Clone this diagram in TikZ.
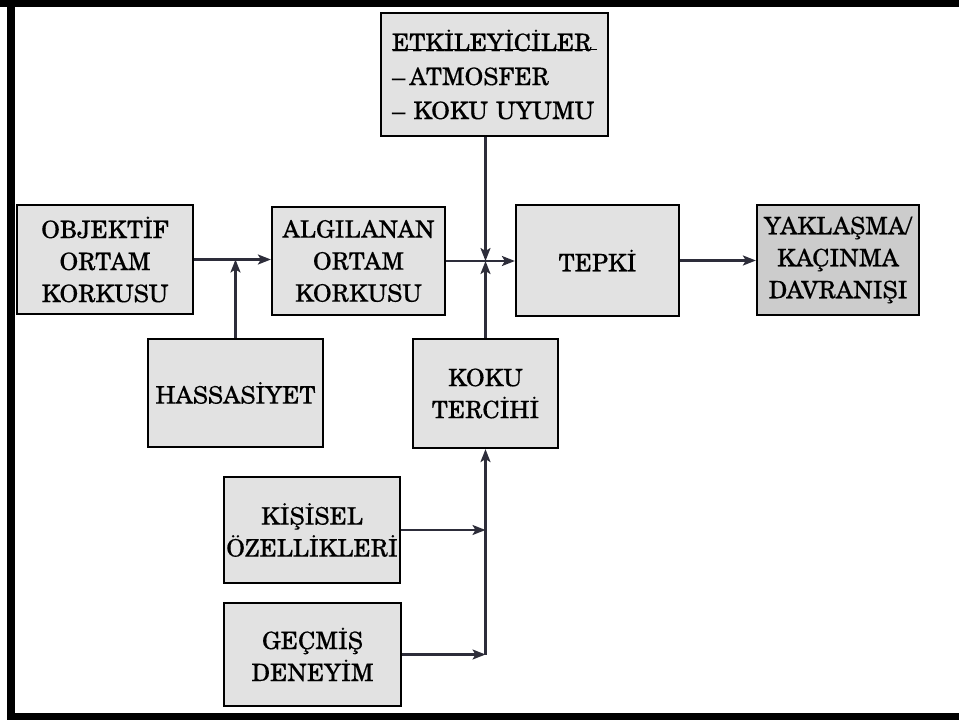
\documentclass[tikz,border=0pt]{standalone}
\usepackage{fontspec}
\setmainfont{TeX Gyre Schola}
\newfontfamily\boxfont{TeX Gyre Schola}[FakeBold=0.2]
\usetikzlibrary{arrows.meta}
\definecolor{boxfill}{RGB}{226,226,226}
\definecolor{boxdark}{RGB}{204,204,204}
\definecolor{wirecol}{RGB}{45,45,58}
\begin{document}
\begin{tikzpicture}[x=1pt,y=-1pt,
  blk/.style={draw=black,line width=2.2pt,fill=boxfill,inner sep=0pt,align=center,
    font=\boxfont\fontsize{24}{32}\selectfont},
  arr/.style={draw=wirecol,line width=2.2pt,-{Stealth[length=13pt,width=10pt,inset=3pt]}},
  wireline/.style={draw=wirecol,line width=2.2pt}]
\useasboundingbox (0,0) rectangle (959,720);
% page frame
\fill[black] (0,0) rectangle (959,7);
\fill[black] (7,0) rectangle (15,720);
\fill[black] (7,713) rectangle (959,720);

% main chain
\node[blk,minimum width=176pt,minimum height=109pt] (obj) at (105,259.5) {OBJEKTİF\\ORTAM\\KORKUSU};
\node[blk,minimum width=173pt,minimum height=108pt] (alg) at (358.5,261) {ALGILANAN\\ORTAM\\KORKUSU};
\node[blk,minimum width=163pt,minimum height=111pt] (tep) at (597.5,260.5) {TEPKİ};
\node[blk,fill=boxdark,minimum width=162pt,minimum height=110pt] (yak) at (838,260) {YAKLAŞMA/\\KAÇINMA\\DAVRANIŞI};

% influences
\node[blk,align=left,text width=205pt,minimum width=227pt,minimum height=123pt,
  font=\boxfont\fontsize{24}{34}\selectfont] (etk) at (494.5,74.5)
  {ETKİLEYİCİLER\\–\,ATMOSFER\\– KOKU UYUMU};
\draw[line width=1.8pt] (etk.north west) ++(12,37.5) -- ++(205,0);
\node[blk,minimum width=175pt,minimum height=108pt] (hass) at (235.5,393) {HASSASİYET};
\node[blk,minimum width=145pt,minimum height=109pt] (ter) at (485.5,393.5) {KOKU\\TERCİHİ};
\node[blk,minimum width=176pt,minimum height=106pt] (kis) at (312,530) {KİŞİSEL\\ÖZELLİKLERİ};
\node[blk,minimum width=177pt,minimum height=103pt] (gec) at (312.5,654.5) {GEÇMİŞ\\DENEYİM};

% connectors
\coordinate (j) at (ter.north |- alg.east);
\draw[arr] (obj.east) -- (obj.east -| alg.west);
\draw[arr] (hass.north) -- (hass.north |- obj.east);
\draw[arr] (alg.east) -- (alg.east -| tep.west);
\draw[arr] (etk.south -| j) -- (j);
\draw[arr] (ter.north) -- (j);
\draw[arr] (tep.east) -- (tep.east -| yak.west);
\draw[wireline] (gec.east -| ter.south) -- (kis.east -| ter.south);
\draw[arr] (kis.east -| ter.south) -- (ter.south);
\draw[arr] (kis.east) -- (kis.east -| ter.south);
\draw[arr] (gec.east) -- (gec.east -| ter.south);
\end{tikzpicture}
\end{document}
